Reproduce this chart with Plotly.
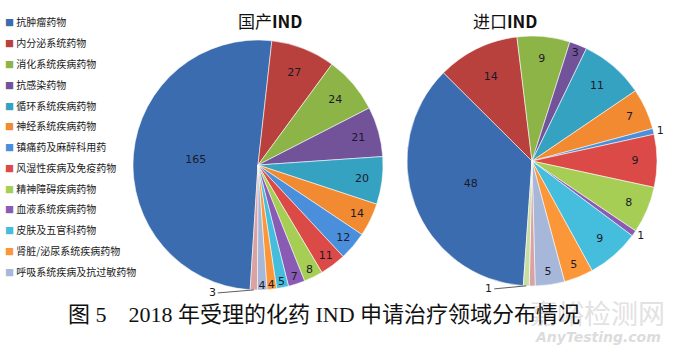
import math
import plotly.graph_objects as go

categories = ["抗肿瘤药物", "内分泌系统药物", "消化系统疾病药物", "抗感染药物",
              "循环系统疾病药物", "神经系统疾病药物", "镇痛药及麻醉科用药",
              "风湿性疾病及免疫药物", "精神障碍疾病药物", "血液系统疾病药物",
              "皮肤及五官科药物", "肾脏/泌尿系统疾病药物", "呼吸系统疾病及抗过敏药物",
              "其他", "其他类"]
domestic = [165, 27, 24, 21, 20, 14, 12, 11, 8, 7, 5, 4, 4, 3]
imported = [48, 14, 9, 3, 11, 7, 1, 9, 8, 1, 9, 5, 5, 1, 1]
legend_count = 13

colors = ["#3C6CB0", "#B8403D", "#8DB447", "#72539A", "#35A2C2", "#F18A30",
          "#4A8FDC", "#DC4A47", "#A6CE55", "#8A5BB5", "#45BEDD", "#FB9738",
          "#A7B7D9", "#D8A3A2", "#C9DDA3"]

W, H = 679, 354

dom_domain = dict(x=[133 / W, 383 / W], y=[64 / H, 314 / H])
imp_domain = dict(x=[407 / W, 657 / W], y=[68 / H, 318 / H])
dom_rot, imp_rot = 183.6, 184.0

# slices whose labels are drawn with a leader line at the bottom
dom_leader = {13: -36}
imp_leader = {14: -32}
imp_hidden = {13}


def text_info(vals, leader, hidden=()):
    texts, pos = [], []
    for i, v in enumerate(vals):
        if i in leader or i in hidden:
            texts.append("")
            pos.append("none")
        else:
            texts.append(str(v))
            pos.append("outside" if v <= 1 else "inside")
    return texts, pos


def leader_annotations(vals, domain, rotation, leader):
    out = []
    cx = (domain["x"][0] + domain["x"][1]) / 2 * W
    cy = (1 - (domain["y"][0] + domain["y"][1]) / 2) * H
    r = min((domain["x"][1] - domain["x"][0]) * W, (domain["y"][1] - domain["y"][0]) * H) / 2
    total = sum(vals)
    start = rotation
    for i, v in enumerate(vals):
        span = v / total * 360
        if i in leader:
            mid = math.radians(start + span / 2)
            px = cx + r * math.sin(mid)
            py = cy - r * math.cos(mid)
            out.append(dict(x=px / W, y=1 - py / H, xref="paper", yref="paper",
                            text=str(v), showarrow=True, arrowhead=0, arrowwidth=0.8,
                            arrowcolor="#333333", ax=leader[i], ay=3,
                            xanchor="right", yanchor="middle",
                            font=dict(family="DejaVu Sans", size=11, color="#1a1a2a")))
        start += span
    return out


dt, dp = text_info(domestic, dom_leader)
it, ip = text_info(imported, imp_leader, imp_hidden)

fig = go.Figure()
fig.add_trace(go.Pie(
    labels=categories[:len(domestic)], values=domestic, sort=False,
    direction="clockwise", rotation=dom_rot,
    marker=dict(colors=colors[:len(domestic)], line=dict(color="rgba(255,255,255,0.7)", width=0.8)),
    text=dt, textinfo="text", textposition=dp, insidetextorientation="horizontal",
    textfont=dict(family="DejaVu Sans", size=11, color="#1a1a2a"),
    domain=dom_domain, showlegend=False, hoverinfo="label+value"))
fig.add_trace(go.Pie(
    labels=categories[:len(imported)], values=imported, sort=False,
    direction="clockwise", rotation=imp_rot,
    marker=dict(colors=colors[:len(imported)], line=dict(color="rgba(255,255,255,0.7)", width=0.8)),
    text=it, textinfo="text", textposition=ip, insidetextorientation="horizontal",
    textfont=dict(family="DejaVu Sans", size=11, color="#1a1a2a"),
    domain=imp_domain, showlegend=False, hoverinfo="label+value"))

annotations = []
# manual legend
for i in range(legend_count):
    y_px = 22 + i * 20.75
    annotations.append(dict(
        x=3 / W, y=1 - y_px / H, xref="paper", yref="paper", xanchor="left", yanchor="middle",
        showarrow=False,
        text=f"<span style='color:{colors[i]};font-size:9px'>■</span> {categories[i]}",
        font=dict(family="Noto Sans CJK SC", size=10, color="#222222")))

annotations += [
    dict(x=597 / W, y=1 - 312 / H, xref="paper", yref="paper", showarrow=False,
         xanchor="center", yanchor="middle",
         text="嘉峪检测网", font=dict(family="Noto Sans CJK SC", size=27, color="#e2e2e2")),
    dict(x=598 / W, y=1 - 337 / H, xref="paper", yref="paper", showarrow=False,
         xanchor="center", yanchor="middle",
         text="<b><i>AnyTesting.com</i></b>", font=dict(family="DejaVu Sans", size=14, color="#dcdcdc")),
    dict(x=270 / W, y=1 - 21 / H, xref="paper", yref="paper", showarrow=False,
         xanchor="center", yanchor="middle",
         text="国产<b>IND</b>", font=dict(family="Noto Sans CJK SC", size=17, color="#111111")),
    dict(x=505 / W, y=1 - 21 / H, xref="paper", yref="paper", showarrow=False,
         xanchor="center", yanchor="middle",
         text="进口<b>IND</b>", font=dict(family="Noto Sans CJK SC", size=17, color="#111111")),
    dict(x=324 / W, y=1 - 314 / H, xref="paper", yref="paper", showarrow=False,
         xanchor="center", yanchor="middle",
         text="图 5　2018 年受理的化药 IND 申请治疗领域分布情况",
         font=dict(family="Liberation Serif, Noto Sans CJK SC", size=22, color="#111111")),
]
annotations += leader_annotations(domestic, dom_domain, dom_rot, dom_leader)
annotations += leader_annotations(imported, imp_domain, imp_rot, imp_leader)

fig.update_layout(
    width=W, height=H, margin=dict(l=0, r=0, t=0, b=0),
    paper_bgcolor="white", plot_bgcolor="white",
    uniformtext=dict(minsize=11, mode="show"),
    annotations=annotations)

fig.write_html("out.html")
